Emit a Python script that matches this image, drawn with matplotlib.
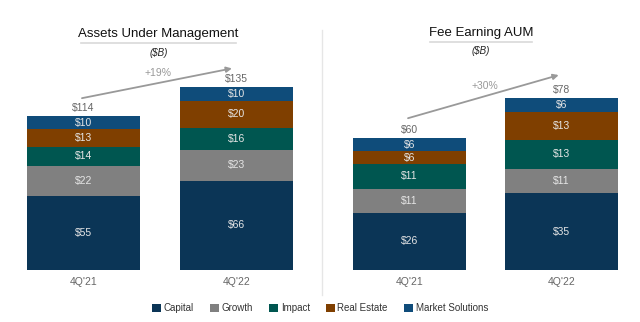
import matplotlib
matplotlib.use("Agg")
import matplotlib.pyplot as plt
from matplotlib.patches import Patch
from matplotlib.lines import Line2D

plt.rcParams['font.family'] = ['Liberation Sans', 'DejaVu Sans']

periods = ["4Q'21", "4Q'22"]
segments = ["Capital", "Growth", "Impact", "Real Estate", "Market Solutions"]
colors = ["#0B3556", "#808080", "#005650", "#7F3F00", "#0F4C7A"]

aum = {
    "Capital": [55, 66],
    "Growth": [22, 23],
    "Impact": [14, 16],
    "Real Estate": [13, 20],
    "Market Solutions": [10, 10],
}
aum_totals = [114, 135]
aum_growth = "+19%"

feaum = {
    "Capital": [26, 35],
    "Growth": [11, 11],
    "Impact": [11, 13],
    "Real Estate": [6, 13],
    "Market Solutions": [6, 6],
}
feaum_totals = [60, 78]
feaum_growth = "+30%"

W, H = 640, 322
fig = plt.figure(figsize=(W / 100, H / 100), dpi=100)


def px_axes(x0, x1, ytop, ybot):
    return fig.add_axes([x0 / W, 1 - ybot / H, (x1 - x0) / W, (ybot - ytop) / H])


def draw(ax, data, totals, ymax, growth, arrow, glabel):
    x = [0, 1]
    bottoms = [0, 0]
    for seg, col in zip(segments, colors):
        vals = data[seg]
        ax.bar(x, vals, width=0.74, bottom=bottoms, color=col, edgecolor='none')
        for i in range(2):
            ax.text(x[i], bottoms[i] + vals[i] / 2, f"${vals[i]}", ha='center', va='center',
                    fontsize=7.5, color='#E6E6E6')
        bottoms = [b + v for b, v in zip(bottoms, vals)]
    for i in range(2):
        ax.text(x[i], totals[i] + ymax * 0.012, f"${totals[i]}", ha='center', va='bottom',
                fontsize=7.5, color='#666666')
    ax.annotate("", xy=arrow[1], xytext=arrow[0],
                arrowprops=dict(arrowstyle='-|>', color='#999999', lw=1.3,
                                mutation_scale=8, shrinkA=0, shrinkB=0))
    ax.text(glabel[0], glabel[1], growth, ha='center', va='center', fontsize=7.5, color='#999999')
    ax.set_xlim(-0.5, 1.5)
    ax.set_ylim(0, ymax)
    ax.set_xticks(x)
    ax.set_xticklabels(periods, fontsize=7.5, color='#666666')
    ax.tick_params(axis='x', length=0, pad=5)
    ax.set_yticks([])
    for s in ax.spines.values():
        s.set_visible(False)
    ax.patch.set_alpha(0)


ax1 = px_axes(7, 313, 20, 270)
draw(ax1, aum, aum_totals, 250 / 1.353, aum_growth,
     ((-0.01, 127), (0.97, 149)), (0.487, 145.6))

ax2 = px_axes(333, 638, 20, 270)
draw(ax2, feaum, feaum_totals, 250 / 2.2, feaum_growth,
     ((-0.008, 69), (0.98, 88.6)), (0.497, 83.6))

# Titles
fig.text(158.5 / W, 1 - 34 / H, "Assets Under Management", ha='center', va='center',
         fontsize=9.5, color='#111111')
fig.add_artist(Line2D([81 / W, 236 / W], [1 - 43 / H, 1 - 43 / H], color='#D9D9D9', lw=1.2))
fig.text(158.5 / W, 1 - 53 / H, "($B)", ha='center', va='center', fontsize=7,
         style='italic', color='#222222')

fig.text(481 / W, 1 - 33 / H, "Fee Earning AUM", ha='center', va='center',
         fontsize=9.5, color='#111111')
fig.add_artist(Line2D([430 / W, 532 / W], [1 - 42 / H, 1 - 42 / H], color='#D9D9D9', lw=1.2))
fig.text(481 / W, 1 - 51 / H, "($B)", ha='center', va='center', fontsize=7,
         style='italic', color='#222222')

# Divider
fig.add_artist(Line2D([322 / W, 322 / W], [1 - 30 / H, 1 - 295 / H], color='#E6E6E6', lw=1))

handles = [Patch(facecolor=c, edgecolor='none', label=s) for s, c in zip(segments, colors)]
fig.legend(handles=handles, loc='center', bbox_to_anchor=(0.5, 1 - 308 / H), ncol=5,
           frameon=False, fontsize=7, handlelength=0.9, handleheight=0.9,
           handletextpad=0.3, columnspacing=1.65, labelcolor='#333333')

fig.savefig("out.png", dpi=100, facecolor='white')
